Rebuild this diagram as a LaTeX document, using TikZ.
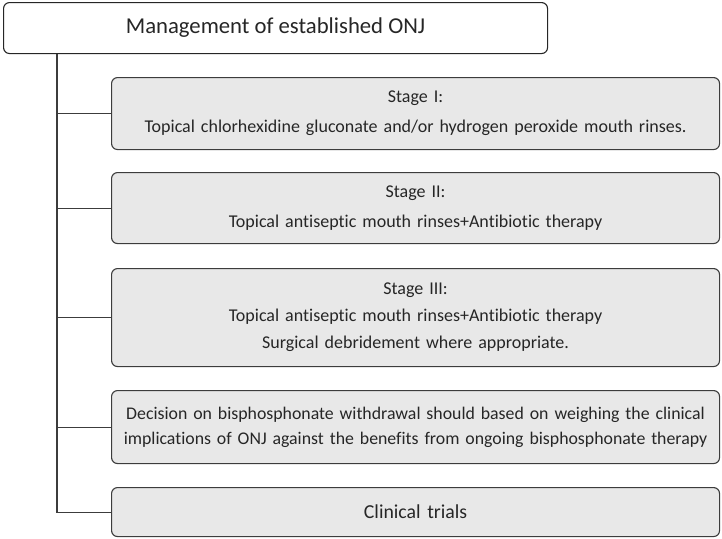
\documentclass[tikz,border=0pt]{standalone}
\usepackage{fontspec}
\setmainfont[Ligatures=CommonOff]{Carlito}
\usetikzlibrary{positioning}

\definecolor{boxfill}{HTML}{E8E8E8}
\definecolor{boxline}{HTML}{3C3C3C}
\definecolor{textgray}{HTML}{262626}

\begin{document}
\begin{tikzpicture}[x=1pt,y=-1pt,
  headbox/.style={draw=black!85,fill=white,rounded corners=6pt,line width=1.1pt,
    minimum width=544pt,minimum height=51pt,anchor=north west,inner sep=0pt,
    text=textgray,font=\fontsize{22.7}{26}\selectfont},
  stagebox/.style={draw=boxline,fill=boxfill,rounded corners=6pt,line width=1.1pt,
    minimum width=608pt,text width=600pt,align=center,anchor=north west,inner sep=0pt,
    text=textgray,font=\fontsize{18}{30}\selectfont},
  link/.style={draw=boxline,line width=1.1pt}]

    \useasboundingbox (0,0) rectangle (722,538);

    % heading
    \node[headbox] (title) at (3,2) {Management of established ONJ};

    % stages and further steps
    \node[stagebox,minimum height=72pt] (stage1) at (111,77)
        {Stage I:\\Topical chlorhexidine gluconate and/or hydrogen peroxide mouth rinses.};
    \node[stagebox,minimum height=71pt] (stage2) at (111,172)
        {Stage II:\\Topical antiseptic mouth rinses+Antibiotic therapy};
    \node[stagebox,minimum height=98pt,font=\fontsize{18}{27}\selectfont] (stage3) at (111,268)
        {Stage III:\\Topical antiseptic mouth rinses+Antibiotic therapy\\Surgical debridement where appropriate.};
    \node[stagebox,minimum height=73pt,font=\fontsize{17.8}{25}\selectfont] (decision) at (111,390)
        {Decision on bisphosphonate withdrawal should based on weighing the clinical\\implications of ONJ against the benefits from ongoing bisphosphonate therapy};
    \node[stagebox,minimum height=49pt,font=\fontsize{19.8}{22}\selectfont] (trials) at (111,487)
        {Clinical trials};

    % tree lines
    \coordinate (root) at (57,0 |- title.south);
    \draw[link] (root) |- (trials.west);
    \foreach \n in {stage1,stage2,stage3,decision}
        \draw[link] (root |- \n.west) -- (\n.west);
\end{tikzpicture}
\end{document}
